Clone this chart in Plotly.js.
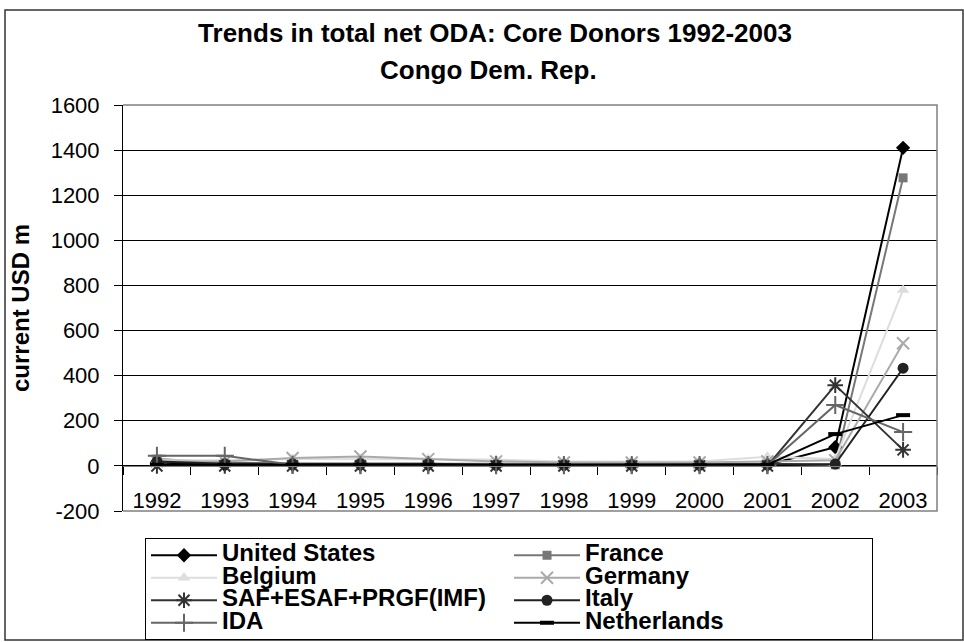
<!DOCTYPE html>
<html>
<head>
<meta charset="utf-8">
<script src="https://cdn.plot.ly/plotly-3.0.1.min.js"></script>
<style>html,body{margin:0;padding:0;background:#fff;}</style>
</head>
<body>
<div id="chart" style="width:964px;height:642px;"></div>
<script>
// ---- data ----
const years = ['1992','1993','1994','1995','1996','1997','1998','1999','2000','2001','2002','2003'];
const seriesNames = ['United States','France','Belgium','Germany','SAF+ESAF+PRGF(IMF)','Italy','IDA','Netherlands'];
const unitedStates = [15, 5, 5, 5, 5, 3, 3, 3, 3, 5, 83, 1410];
const france       = [30, 15, 10, 10, 10, 8, 8, 8, 8, 10, 5, 1277];
const belgium      = [25, 25, 30, 30, 30, 28, 20, 20, 20, 40, 30, 780];
const germany      = [20, 20, 35, 42, 30, 20, 15, 15, 15, 20, 25, 544];
const imf          = [0, 0, 0, 0, 0, 0, 0, 0, 0, 0, 358, 71];
const italy        = [20, 10, 10, 10, 10, 5, 5, 5, 5, 5, 8, 433];
const ida          = [45, 45, 5, 3, 3, 3, 3, 3, 3, 3, 270, 150];
const netherlands  = [5, 5, 5, 5, 5, 3, 3, 3, 3, 5, 141, 225];
const yTickVals = [-200, 0, 200, 400, 600, 800, 1000, 1200, 1400, 1600];
const yTickText = ['-200', '0', '200', '400', '600', '800', '1000', '1200', '1400', '1600'];

const seriesValues = [unitedStates, france, belgium, germany, imf, italy, ida, netherlands];
const styles = [
  {color:'#000000', symbol:'diamond', size:11, lw:0},
  {color:'#777777', symbol:'square', size:9, lw:0},
  {color:'#dddddd', symbol:'triangle-up', size:11, lw:0},
  {color:'#aaaaaa', symbol:'x-thin-open', size:12, lw:2},
  {color:'#333333', symbol:'asterisk-open', size:13, lw:2},
  {color:'#222222', symbol:'circle', size:11, lw:0},
  {color:'#666666', symbol:'cross-thin-open', size:13, lw:2},
  {color:'#000000', symbol:'line-ew-open', size:10, lw:4}
];
const FONT = 'Liberation Sans, Arial, sans-serif';

const traces = seriesNames.map((n, i) => ({
  type: 'scatter',
  mode: 'lines+markers',
  x: years,
  y: seriesValues[i],
  name: '<span style="font-size:24px">' + n + '</span>',
  line: {color: styles[i].color, width: 2},
  marker: {color: styles[i].color, symbol: styles[i].symbol, size: styles[i].size,
           line: {color: styles[i].color, width: styles[i].lw}},
  cliponaxis: false
}));

const yMin = -200, yMax = 1600;

const layout = {
  width: 964, height: 642,
  margin: {l: 123, r: 27, t: 105, b: 131},
  paper_bgcolor: '#ffffff',
  plot_bgcolor: '#ffffff',
  font: {family: FONT, color: '#000'},
  title: {
    text: '<b>Trends in total net ODA: Core Donors 1992-2003</b>',
    font: {family: FONT, size: 26, color: '#000'},
    xref: 'container', x: 495/964, xanchor: 'center',
    yref: 'container', y: 1 - 33/642, yanchor: 'middle'
  },
  annotations: [{
    text: '<b>Congo Dem. Rep.</b>',
    xref: 'paper', yref: 'paper', x: (488-123)/814, y: (511-70)/406,
    xanchor: 'center', yanchor: 'middle', showarrow: false,
    font: {family: FONT, size: 26, color: '#000'}
  }],
  xaxis: {
    type: 'category',
    anchor: 'free',
    position: (0 - yMin) / (yMax - yMin),
    showline: true, linecolor: '#808080', linewidth: 1,
    ticks: 'outside', ticklen: 8, tickcolor: '#000', tickwidth: 1,
    tickson: 'boundaries',
    showgrid: false, zeroline: false,
    tickfont: {family: FONT, size: 22, color: '#000'},
    ticklabelstandoff: 15,
    range: [-0.5, 11.5], fixedrange: true
  },
  yaxis: {
    range: [yMin, yMax],
    tickmode: 'array', tickvals: yTickVals, ticktext: yTickText,
    showline: true, linecolor: '#000', linewidth: 1,
    ticks: 'outside', ticklen: 8, tickcolor: '#000',
    showgrid: true, gridcolor: '#000', gridwidth: 1,
    zeroline: false,
    tickfont: {family: FONT, size: 22, color: '#000'},
    ticklabelstandoff: 10,
    title: {text: '<b>current USD m</b>', font: {family: FONT, size: 24, color: '#000'}, standoff: 14}
  },
  showlegend: true,
  legend: {
    orientation: 'h',
    xref: 'container', x: 145/964, xanchor: 'left',
    yref: 'container', y: 1 - 538/642, yanchor: 'top',
    bgcolor: '#ffffff', bordercolor: '#000', borderwidth: 1,
    font: {family: FONT, size: 15, color: '#000', weight: 'bold'},
    itemwidth: 66,
    entrywidth: 282, entrywidthmode: 'pixels',
    traceorder: 'normal'
  },
  shapes: [
    {type: 'path', xref: 'paper', yref: 'paper', layer: 'above',
     path: 'M 0 1 L 1 1 L 1 0 L 0 0', line: {color: '#808080', width: 1.5}},
    {type: 'rect', xref: 'paper', yref: 'paper', layer: 'above',
     x0: (5-123)/814, x1: (963-123)/814, y0: (511-640)/406, y1: (511-10)/406,
     line: {color: '#333', width: 1.5}, fillcolor: 'rgba(0,0,0,0)'}
  ]
};

Plotly.newPlot('chart', traces, layout, {displayModeBar: false, staticPlot: true});
</script>
</body>
</html>
